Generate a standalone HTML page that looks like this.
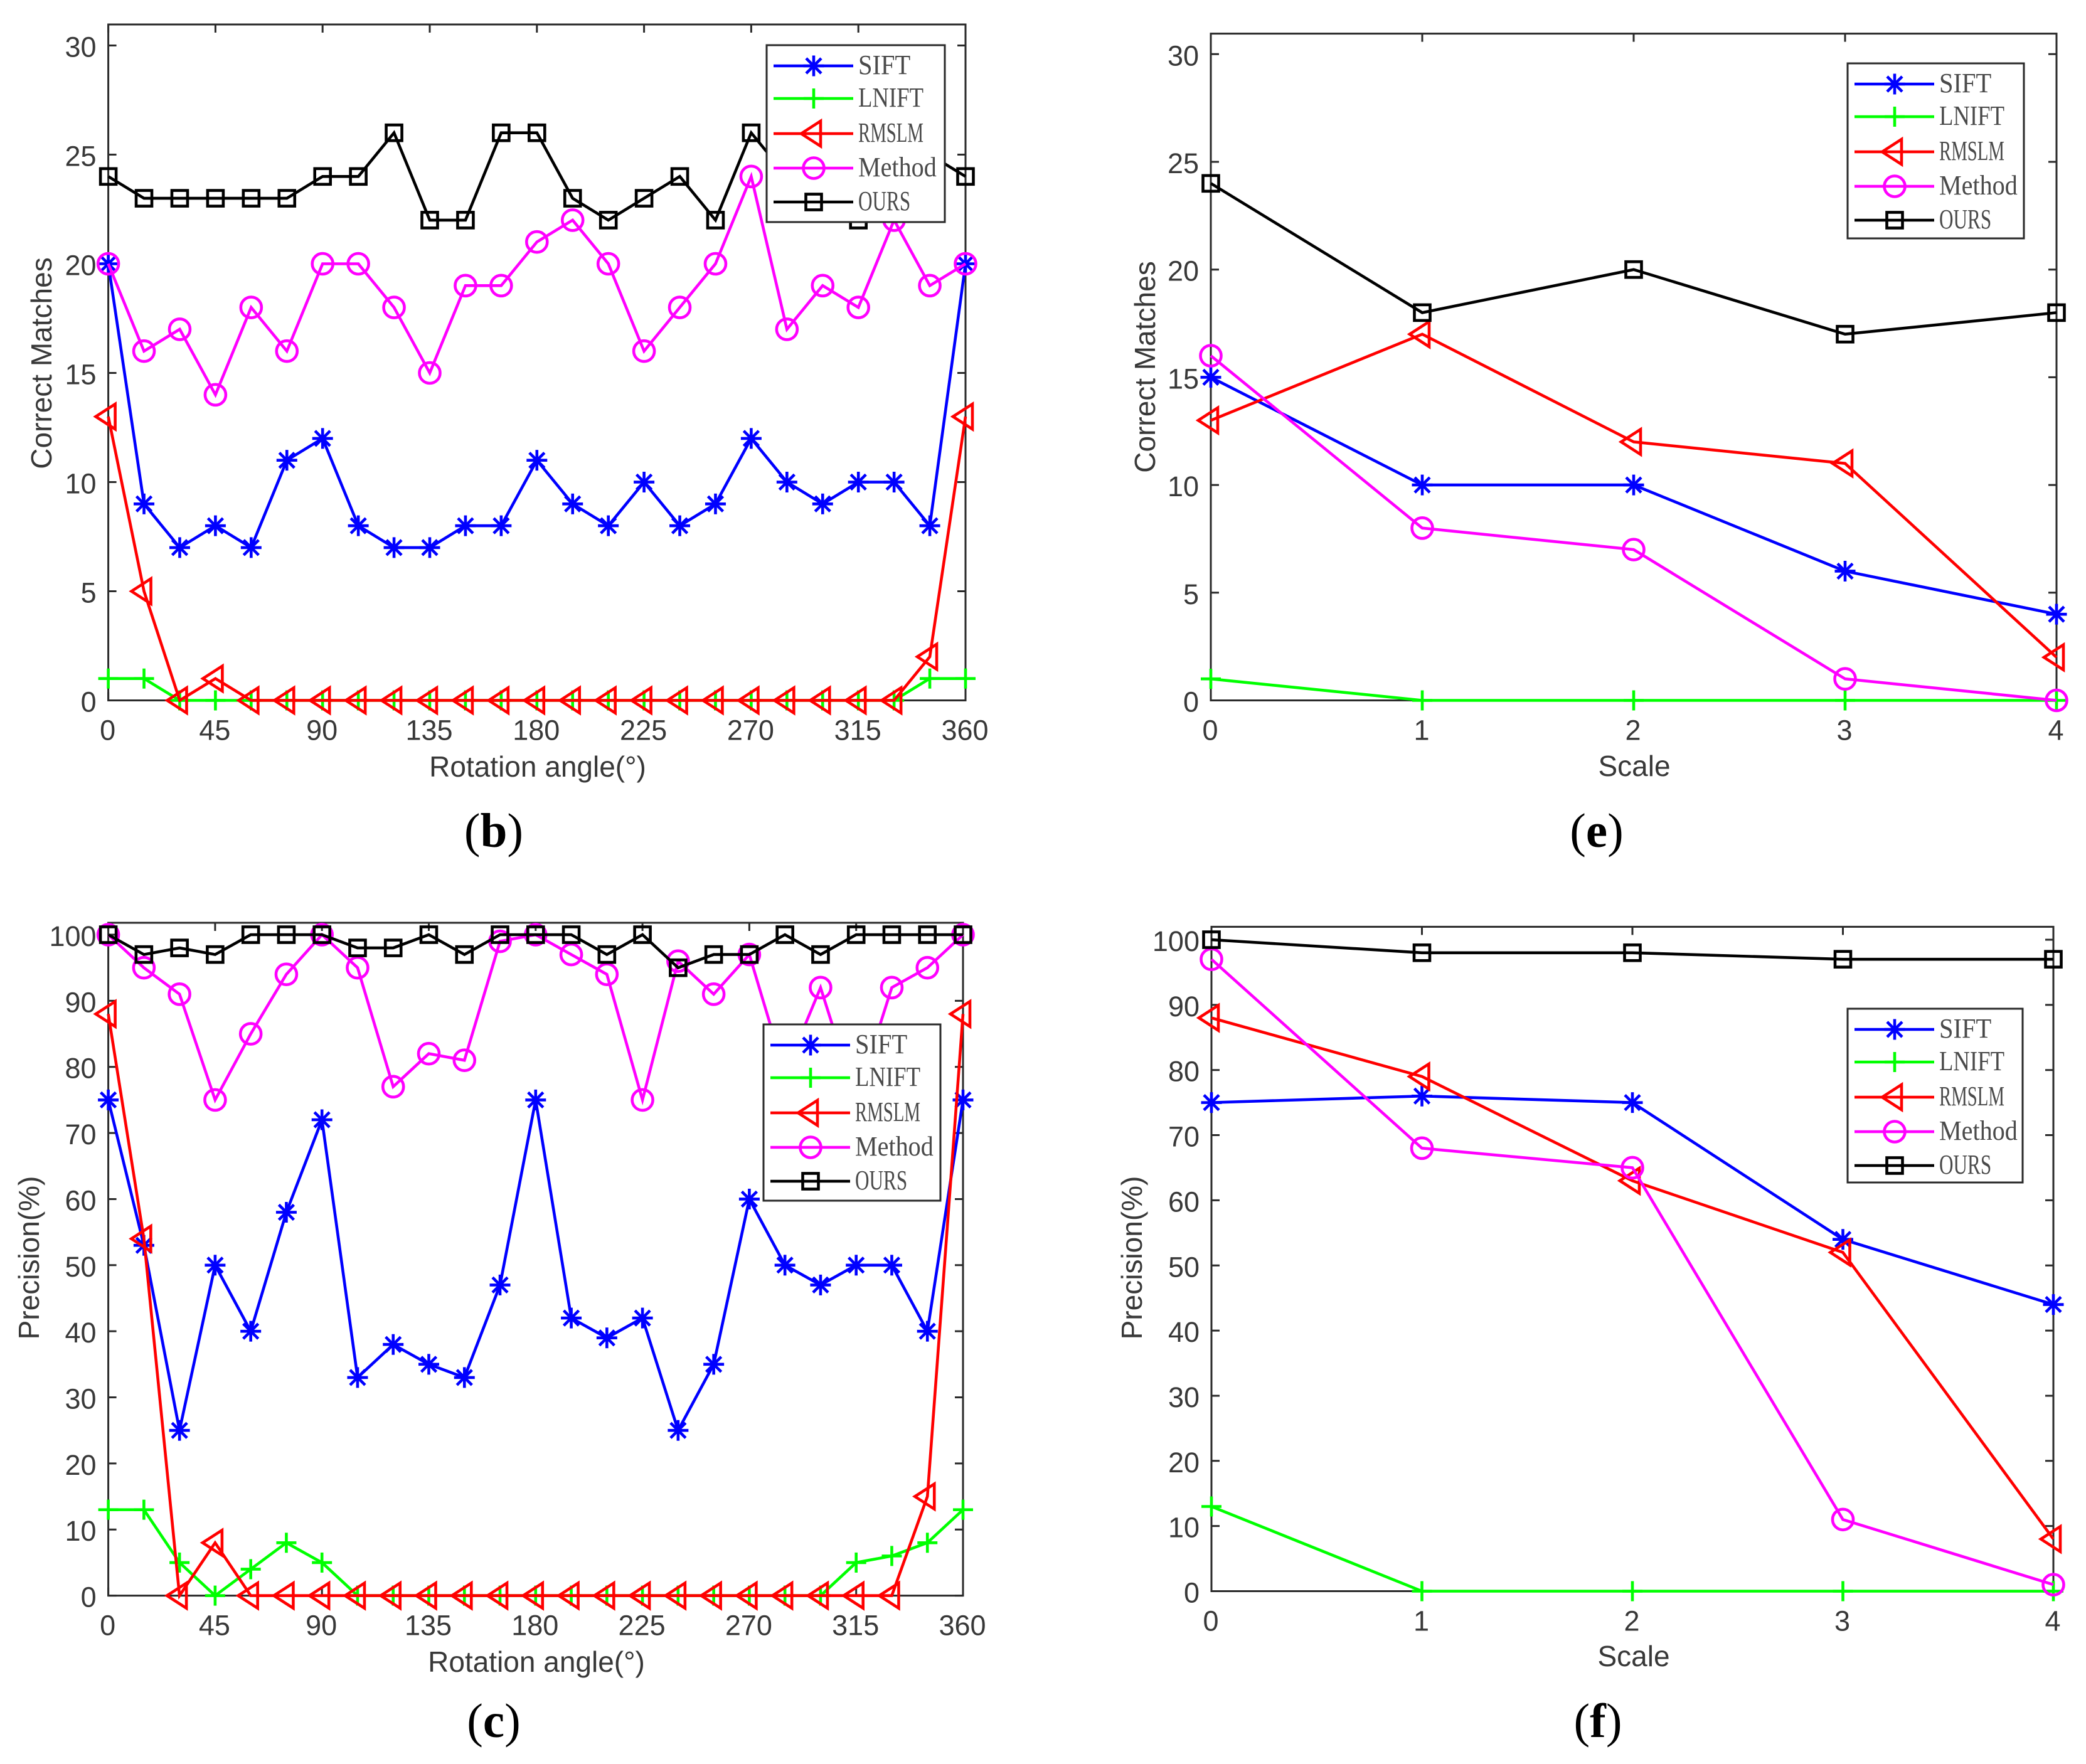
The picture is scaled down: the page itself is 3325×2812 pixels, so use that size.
<!DOCTYPE html>
<html lang="en">
<head>
<meta charset="utf-8">
<title>Correct matches and precision charts</title>
<style>
html,body{margin:0;padding:0;background:#fff;}
svg{display:block;}
text{font-family:"Liberation Sans",sans-serif;fill:#383838;}
.cap{font-family:"Liberation Serif",serif;fill:#000;font-size:77px;}
.leg{font-family:"Liberation Serif",serif;fill:#4a4a4a;font-size:44px;}
</style>
</head>
<body>
<svg id="fig" xmlns="http://www.w3.org/2000/svg" width="3325" height="2812" viewBox="0 0 3325 2812">
<rect width="3325" height="2812" fill="#fff"/>
<text class="cap" x="787" y="1350" text-anchor="middle">(<tspan font-weight="bold">b</tspan>)</text>
<text class="cap" x="2545" y="1350" text-anchor="middle">(<tspan font-weight="bold">e</tspan>)</text>
<text class="cap" x="787" y="2769" text-anchor="middle">(<tspan font-weight="bold">c</tspan>)</text>
<text class="cap" x="2547" y="2769" text-anchor="middle">(<tspan font-weight="bold">f</tspan>)</text>
</svg>
<script>
// ---- shared categories and tick labels ----
const angleCategories = [0,15,30,45,60,75,90,105,120,135,150,165,180,195,210,225,240,255,270,285,300,315,330,345,360];
const scaleCategories = [0,1,2,3,4];
const angleTicks = [0,45,90,135,180,225,270,315,360];
const scaleTicks = [0,1,2,3,4];
const matchTicks = [0,5,10,15,20,25,30];
const precisionTicks = [0,10,20,30,40,50,60,70,80,90,100];
const seriesNames = ['SIFT','LNIFT','RMSLM','Method','OURS'];

// ---- panel (b): correct matches vs rotation ----
const bSift   = [20,9,7,8,7,11,12,8,7,7,8,8,11,9,8,10,8,9,12,10,9,10,10,8,20];
const bLnift  = [1,1,0,0,0,0,0,0,0,0,0,0,0,0,0,0,0,0,0,0,0,0,0,1,1];
const bRmslm  = [13,5,0,1,0,0,0,0,0,0,0,0,0,0,0,0,0,0,0,0,0,0,0,2,13];
const bMethod = [20,16,17,14,18,16,20,20,18,15,19,19,21,22,20,16,18,20,24,17,19,18,22,19,20];
const bOurs   = [24,23,23,23,23,23,24,24,26,22,22,26,26,23,22,23,24,22,26,24,23,22,24,25,24];

// ---- panel (c): precision vs rotation ----
const cSift   = [75,53,25,50,40,58,72,33,38,35,33,47,75,42,39,42,25,35,60,50,47,50,50,40,75];
const cLnift  = [13,13,5,0,4,8,5,0,0,0,0,0,0,0,0,0,0,0,0,0,0,5,6,8,13];
const cRmslm  = [88,54,0,8,0,0,0,0,0,0,0,0,0,0,0,0,0,0,0,0,0,0,0,15,88];
const cMethod = [100,95,91,75,85,94,100,95,77,82,81,99,100,97,94,75,96,91,97,79,92,75,92,95,100];
const cOurs   = [100,97,98,97,100,100,100,98,98,100,97,100,100,100,97,100,95,97,97,100,97,100,100,100,100];

// ---- panel (e): correct matches vs scale ----
const eSift   = [15,10,10,6,4];
const eLnift  = [1,0,0,0,0];
const eRmslm  = [13,17,12,11,2];
const eMethod = [16,8,7,1,0];
const eOurs   = [24,18,20,17,18];

// ---- panel (f): precision vs scale ----
const fSift   = [75,76,75,54,44];
const fLnift  = [13,0,0,0,0];
const fRmslm  = [88,79,63,52,8];
const fMethod = [97,68,65,11,1];
const fOurs   = [100,98,98,97,97];

const NS = 'http://www.w3.org/2000/svg';
const svgRoot = document.getElementById('fig');
const seriesColors = ['#0000ff','#00ff00','#ff0000','#ff00ff','#000000'];
const seriesMarkers = ['star','plus','tri','circle','square'];

function make(parent, tag, attrs) {
  const el = document.createElementNS(NS, tag);
  for (const k in attrs) el.setAttribute(k, attrs[k]);
  parent.appendChild(el);
  return el;
}

function drawMarker(parent, kind, cx, cy, color) {
  const g = make(parent, 'g', {stroke: color, 'stroke-width': 4.6, fill: 'none'});
  
  
  if (kind === 'star') {
    const r = 16.5, d = 12;
    make(g, 'line', {x1: cx, y1: cy - r, x2: cx, y2: cy + r});
    make(g, 'line', {x1: cx - r, y1: cy, x2: cx + r, y2: cy});
    make(g, 'line', {x1: cx - d, y1: cy - d, x2: cx + d, y2: cy + d});
    make(g, 'line', {x1: cx - d, y1: cy + d, x2: cx + d, y2: cy - d});
  } else if (kind === 'plus') {
    make(g, 'line', {x1: cx, y1: cy - 16, x2: cx, y2: cy + 16});
    make(g, 'line', {x1: cx - 16, y1: cy, x2: cx + 16, y2: cy});
  } else if (kind === 'tri') {
    make(g, 'polygon', {points: (cx - 20) + ',' + cy + ' ' + (cx + 11) + ',' + (cy - 20) + ' ' + (cx + 11) + ',' + (cy + 20)});
  } else if (kind === 'circle') {
    make(g, 'circle', {cx: cx, cy: cy, r: 16.5});
  } else {
    make(g, 'rect', {x: cx - 12.5, y: cy - 12.5, width: 25, height: 25});
  }
}

function drawPanel(p) {
  const panel = make(svgRoot, 'g', {});
  
  
  const xScale = function (v) { return p.left + (v - p.xMin) / (p.xMax - p.xMin) * (p.right - p.left); };
  const yScale = function (v) { return p.bottom - v * p.yUnit; };

  const frame = make(panel, 'rect', {x: p.left, y: p.top, width: p.right - p.left, height: p.bottom - p.top, fill: 'none', stroke: '#2a2a2a', 'stroke-width': 3});
  
  

  p.xTicks.forEach(function (t) {
    const x = xScale(t);
    const tick = make(panel, 'path', {d: 'M' + x + ' ' + p.bottom + 'v-13M' + x + ' ' + p.top + 'v13', stroke: '#2a2a2a', 'stroke-width': 3, fill: 'none'});
    
    
    const label = make(panel, 'text', {x: x - 1, y: p.bottom + 63, 'text-anchor': 'middle', 'font-size': 45});
    
    
    label.textContent = t;
  });

  p.yTicks.forEach(function (t) {
    const y = yScale(t);
    const tick = make(panel, 'path', {d: 'M' + p.left + ' ' + y + 'h13M' + p.right + ' ' + y + 'h-13', stroke: '#2a2a2a', 'stroke-width': 3, fill: 'none'});
    
    
    const label = make(panel, 'text', {x: p.left - 19, y: y + 18, 'text-anchor': 'end', 'font-size': 45});
    
    
    label.textContent = t;
  });

  const xTitle = make(panel, 'text', {x: p.xTitleX, y: p.xTitleY, 'text-anchor': 'middle', 'font-size': 46});
  
  
  xTitle.textContent = p.xTitle;

  const yTitle = make(panel, 'text', {transform: 'translate(' + p.yTitleX + ' ' + p.yTitleY + ') rotate(-90)', 'text-anchor': 'middle', 'font-size': 46});
  
  
  yTitle.textContent = p.yTitle;

  p.series.forEach(function (vals, i) {
    const group = make(panel, 'g', {});
    
    
    const pts = vals.map(function (v, j) { return xScale(p.categories[j]) + ',' + yScale(v); }).join(' ');
    const line = make(group, 'polyline', {points: pts, fill: 'none', stroke: seriesColors[i], 'stroke-width': 4.6, 'stroke-linejoin': 'miter'});
    
    
    vals.forEach(function (v, j) {
      drawMarker(group, seriesMarkers[i], xScale(p.categories[j]), yScale(v), seriesColors[i]);
    });
  });

  const legend = make(panel, 'g', {});
  
  
  const box = make(legend, 'rect', {x: p.legX, y: p.legY, width: p.legW, height: p.legH, fill: '#fff', stroke: '#2a2a2a', 'stroke-width': 3});
  
  
  const rowOffsets = [33, 85, 141, 196, 250];
  seriesNames.forEach(function (name, i) {
    const ry = p.legY + rowOffsets[i];
    const entry = make(legend, 'g', {});
    
    
    make(entry, 'line', {x1: p.legX + 11, y1: ry, x2: p.legX + 138, y2: ry, stroke: seriesColors[i], 'stroke-width': 4.6});
    drawMarker(entry, seriesMarkers[i], p.legX + 75, ry, seriesColors[i]);
    const label = make(entry, 'text', {x: p.legX + 146, y: ry + 13, textLength: name.length * 20.8, lengthAdjust: 'spacingAndGlyphs'});
    label.setAttribute('class', 'leg');
    
    
    label.textContent = name;
  });
}

drawPanel({id: 'b', left: 172.6, right: 1539, top: 39, bottom: 1116.5, yUnit: 34.8,
  xMin: 0, xMax: 360, categories: angleCategories, xTicks: angleTicks, yTicks: matchTicks,
  xTitle: 'Rotation angle(°)', xTitleX: 857, xTitleY: 1238,
  yTitle: 'Correct Matches', yTitleX: 82, yTitleY: 579,
  series: [bSift, bLnift, bRmslm, bMethod, bOurs],
  legX: 1222, legY: 72, legW: 284, legH: 282});

drawPanel({id: 'e', left: 1930, right: 3278, top: 53.6, bottom: 1116.5, yUnit: 34.34,
  xMin: 0, xMax: 4, categories: scaleCategories, xTicks: scaleTicks, yTicks: matchTicks,
  xTitle: 'Scale', xTitleX: 2605, xTitleY: 1237,
  yTitle: 'Correct Matches', yTitleX: 1841, yTitleY: 585,
  series: [eSift, eLnift, eRmslm, eMethod, eOurs],
  legX: 2945, legY: 101, legW: 281, legH: 279});

drawPanel({id: 'c', left: 172.6, right: 1535, top: 1471, bottom: 2543.6, yUnit: 10.536,
  xMin: 0, xMax: 360, categories: angleCategories, xTicks: angleTicks, yTicks: precisionTicks,
  xTitle: 'Rotation angle(°)', xTitleX: 855, xTitleY: 2665,
  yTitle: 'Precision(%)', yTitleX: 62, yTitleY: 2005,
  series: [cSift, cLnift, cRmslm, cMethod, cOurs],
  legX: 1217, legY: 1633, legW: 282, legH: 281});

drawPanel({id: 'f', left: 1931, right: 3273, top: 1477.4, bottom: 2536.5, yUnit: 10.385,
  xMin: 0, xMax: 4, categories: scaleCategories, xTicks: scaleTicks, yTicks: precisionTicks,
  xTitle: 'Scale', xTitleX: 2604, xTitleY: 2656,
  yTitle: 'Precision(%)', yTitleX: 1820, yTitleY: 2005,
  series: [fSift, fLnift, fRmslm, fMethod, fOurs],
  legX: 2945, legY: 1608, legW: 279, legH: 277});
</script>
</body>
</html>
